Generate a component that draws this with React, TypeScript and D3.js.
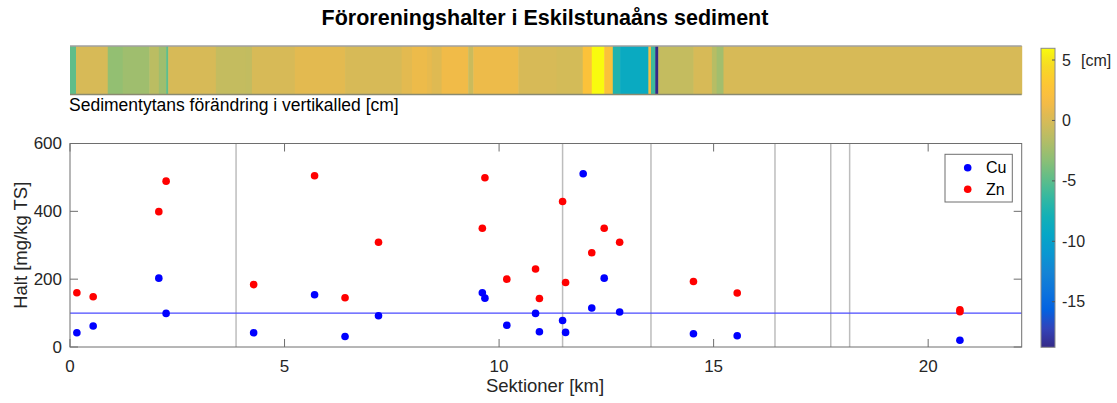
import React from "react";
import * as d3 from "d3";

// ---------- data ----------
const cuKm = [0.16, 0.54, 2.07, 2.24, 4.28, 5.7, 6.41, 7.19, 9.61, 9.67, 10.18, 10.85, 10.94, 11.48, 11.55, 11.96, 12.16, 12.45, 12.81, 14.53, 15.55, 20.74];
const cuVal = [42, 62, 203, 99, 42, 154, 31, 92, 160, 144, 64, 99, 45, 78, 43, 511, 115, 203, 103, 39, 33, 20];
const znKm = [0.16, 0.54, 2.07, 2.24, 4.28, 5.7, 6.41, 7.19, 9.61, 9.67, 10.18, 10.85, 10.94, 11.48, 11.55, 12.16, 12.45, 12.81, 14.53, 15.55, 20.74, 20.74];
const znVal = [160, 148, 399, 489, 184, 505, 145, 309, 350, 499, 200, 230, 143, 429, 190, 278, 350, 309, 193, 159, 110, 104];
const sectionLines = [3.87, 11.48, 13.54, 16.43, 17.73, 18.17];
const guideValue = 100;

const stripEdges = [0, 0.14, 0.88, 1.23, 1.85, 2.07, 2.24, 2.29, 3.4, 4.1, 4.24, 5.24, 6.41, 7.73, 7.97, 8.32, 8.43, 8.66, 9.28, 9.4, 10.45, 11.34, 11.95, 12.16, 12.45, 12.65, 12.82, 13.48, 13.54, 13.64, 13.71, 14.53, 14.96, 15.07, 15.23, 22.18];
const stripValues = [-4.8, 0, -3.0, -2.5, -1.3, -2.5, -4.8, 0, -0.9, -1.0, 0, 0.6, 0, 0.6, 1.1, 0.8, 0.4, 1.3, -0.6, 1.1, 0, -0.2, 2.5, 5.97, 2.5, -7.3, -8.9, 2.0, -6.0, -18.77, -0.9, 0, -1.5, -2.4, 0];

const xTicks = [0, 5, 10, 15, 20];
const yTicks = [0, 200, 400, 600];
const cbTicks = [5, 0, -5, -10, -15];
const cbDomain = [-18.77, 5.97];

// parula anchors
const parula = [
  [0.2081, 0.1663, 0.5292], [0.1959, 0.2645, 0.7279], [0.0117, 0.3875, 0.882],
  [0.0498, 0.4586, 0.8641], [0.0793, 0.52, 0.8312], [0.0343, 0.5966, 0.8199],
  [0.0228, 0.6535, 0.7768], [0.0843, 0.6928, 0.7062], [0.2178, 0.725, 0.6193],
  [0.3953, 0.7459, 0.5244], [0.5709, 0.7485, 0.4494], [0.7184, 0.7411, 0.3905],
  [0.8506, 0.7299, 0.336], [0.9738, 0.7314, 0.2666], [0.9955, 0.7861, 0.1967],
  [0.9626, 0.8705, 0.1309], [0.9763, 0.9831, 0.0538],
];
const parulaPos = [0, 4, 8, 12, 16, 20, 24, 28, 32, 36, 40, 44, 48, 52, 56, 60, 63].map((i) => i / 63);
const parulaColors = parula.map((c) => d3.rgb(c[0] * 255, c[1] * 255, c[2] * 255).toString());
const parulaInterp = d3.scaleLinear<string>().domain(parulaPos).range(parulaColors).interpolate(d3.interpolateRgb).clamp(true);

const FONT = "'Liberation Sans', Arial, Helvetica, sans-serif";

export default function App() {
  const W = 1117, H = 403;
  const pl = 70, pr = 1021.7, pt = 143.5, pb = 347;
  const x = d3.scaleLinear().domain([0, 22.18]).range([pl, pr]);
  const y = d3.scaleLinear().domain([0, 600]).range([pb, pt]);
  const st = 46, sb = 94.5;
  const cbx0 = 1041, cbx1 = 1055, cbt = 48.3, cbb = 347.3;
  const cbScale = d3.scaleLinear().domain(cbDomain).range([cbb, cbt]);
  const norm = d3.scaleLinear().domain(cbDomain).range([0, 1]).clamp(true);
  const color = (v: number) => parulaInterp(norm(v));
  const axisColor = "#6e6e6e";
  const textColor = "#262626";
  const tick = 8;

  const gradStops = d3.range(0, 1.0001, 1 / 32);

  return (
    <svg width={W} height={H} style={{ position: "absolute", left: 0, top: 0, background: "#fff" }} fontFamily={FONT}>
      <defs>
        <linearGradient id="cbgrad" x1="0" y1="1" x2="0" y2="0">
          {gradStops.map((t, i) => (
            <stop key={i} offset={t} stopColor={parulaInterp(t)} />
          ))}
        </linearGradient>
      </defs>
      {/* Title */}
      <text x={545} y={25} textAnchor="middle" fontSize={21.5} fontWeight="bold" fill="#000">
        Föroreningshalter i Eskilstunaåns sediment
      </text>

      {/* Strip */}
      {stripValues.map((v, i) => (
        <rect key={i} x={x(stripEdges[i])} y={st} width={x(stripEdges[i + 1]) - x(stripEdges[i]) + 0.5} height={sb - st} fill={color(v)} />
      ))}
      <line x1={pl} x2={pr} y1={st} y2={st} stroke="#a0a0a0" strokeWidth={1.5} />
      <line x1={pl} x2={pr} y1={sb} y2={sb} stroke="#8a8a70" strokeWidth={1.5} />
      <text x={69} y={111} fontSize={17.5} fill="#000">Sedimentytans förändring i vertikalled [cm]</text>

      {/* Colorbar */}
      <rect x={cbx0} y={cbt} width={cbx1 - cbx0} height={cbb - cbt} fill="url(#cbgrad)" stroke="#8a8a8a" strokeWidth={1} />
      {cbTicks.map((t) => (
        <g key={t}>
          <line x1={cbx1 - 3} x2={cbx1} y1={cbScale(t)} y2={cbScale(t)} stroke="#555" strokeWidth={1} />
          <text x={1062} y={cbScale(t)} dy="0.35em" fontSize={16} fill={textColor}>{t < 0 ? "-" + Math.abs(t) : t}</text>
        </g>
      ))}
      <text x={1081} y={cbScale(5)} dy="0.35em" fontSize={16} fill={textColor}>[cm]</text>

      {/* Plot area */}
      <rect x={pl} y={pt} width={pr - pl} height={pb - pt} fill="#fff" />
      {sectionLines.map((k, i) => (
        <line key={i} x1={x(k)} x2={x(k)} y1={pt} y2={pb} stroke="#bdbdbd" strokeWidth={1.5} />
      ))}
      <line x1={pl} x2={pr} y1={y(guideValue)} y2={y(guideValue)} stroke="#4a4aff" strokeWidth={1.2} />
      {cuKm.map((k, i) => (
        <circle key={"c" + i} cx={x(k)} cy={y(cuVal[i])} r={3.8} fill="#0000ff" />
      ))}
      {znKm.map((k, i) => (
        <circle key={"z" + i} cx={x(k)} cy={y(znVal[i])} r={3.8} fill="#ff0000" />
      ))}

      {/* Axes box */}
      <rect x={pl} y={pt} width={pr - pl} height={pb - pt} fill="none" stroke={axisColor} strokeWidth={1} />
      {xTicks.map((t) => (
        <g key={t}>
          <line x1={x(t)} x2={x(t)} y1={pb} y2={pb - tick} stroke={axisColor} />
          <line x1={x(t)} x2={x(t)} y1={pt} y2={pt + tick} stroke={axisColor} />
          <text x={x(t)} y={372} textAnchor="middle" fontSize={17} fill={textColor}>{t}</text>
        </g>
      ))}
      {yTicks.map((t) => (
        <g key={t}>
          <line x1={pl} x2={pl + tick} y1={y(t)} y2={y(t)} stroke={axisColor} />
          <line x1={pr} x2={pr - tick} y1={y(t)} y2={y(t)} stroke={axisColor} />
          <text x={62} y={y(t)} dy="0.35em" textAnchor="end" fontSize={17} fill={textColor}>{t}</text>
        </g>
      ))}
      <text x={545} y={392} textAnchor="middle" fontSize={18.5} fill={textColor}>Sektioner [km]</text>
      <text transform={`translate(27,${(pt + pb) / 2}) rotate(-90)`} textAnchor="middle" fontSize={18.5} fill={textColor}>Halt [mg/kg TS]</text>

      {/* Legend */}
      <rect x={945} y={154.3} width={67.3} height={47.7} fill="#fff" stroke={axisColor} strokeWidth={1} />
      <circle cx={967.7} cy={167.7} r={3.8} fill="#0000ff" />
      <circle cx={967.7} cy={189.3} r={3.8} fill="#ff0000" />
      <text x={986} y={167.7} dy="0.35em" fontSize={16} fill="#000">Cu</text>
      <text x={986} y={189.3} dy="0.35em" fontSize={16} fill="#000">Zn</text>
    </svg>
  );
}
